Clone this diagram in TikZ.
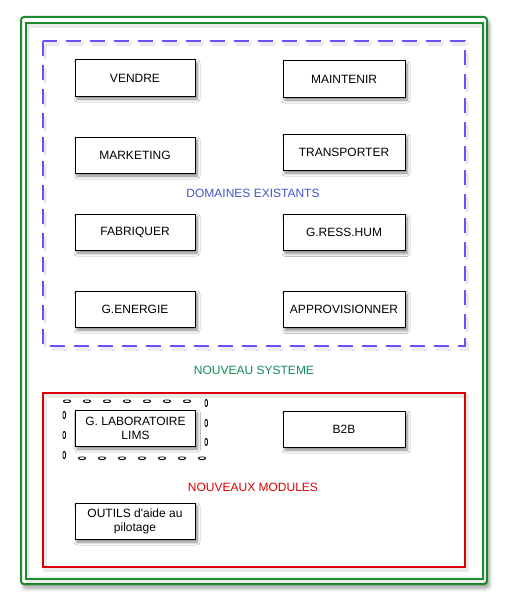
\documentclass[tikz,border=0pt]{standalone}
\usepackage{fontspec}
\setmainfont{Liberation Sans}
\usetikzlibrary{shadows.blur}
\definecolor{frgreen}{HTML}{1E8A2E}
\definecolor{dblue}{HTML}{6652F5}
\definecolor{lblue}{HTML}{4455CC}
\definecolor{lgreen}{HTML}{128A55}
\definecolor{mred}{HTML}{DD0000}
\tikzset{
  modbox/.style={draw=black, line width=1pt, fill=white, minimum height=36pt, align=center,
    font=\fontsize{12}{14}\selectfont, inner sep=1pt,
    blur shadow={shadow xshift=2pt, shadow yshift=-3pt, shadow blur steps=6, shadow opacity=50, shadow blur radius=3pt}},
  leftbox/.style={modbox, minimum width=120pt},
  rightbox/.style={modbox, minimum width=122pt},
  grplabel/.style={font=\fontsize{12}{14}\selectfont},
  frshadow/.style={black, opacity=0.08, line width=4pt},
  pillh/.style={draw=black, line width=0.8pt, rounded corners=1.4pt},
}
\begin{document}
\begin{tikzpicture}[x=1pt, y=-1pt]
\useasboundingbox (0,0) rectangle (508,610);
% green double frame
\draw[frgreen, line width=2pt, fill=white, rounded corners=3pt,
  blur shadow={shadow xshift=2pt, shadow yshift=-4pt, shadow blur steps=6, shadow opacity=40, shadow blur radius=4pt}]
  (21,17) rectangle (487,584);
\draw[frshadow] (28,26) rectangle (485,582);
\draw[frgreen, line width=2pt] (26,23) rectangle (483,579);
% blue dashed frame
\draw[frshadow, dash pattern=on 15pt off 9pt] (45,44) rectangle (467,349);
\draw[dblue, line width=2pt, dash pattern=on 15pt off 9pt] (43,41) rectangle (465,346);
% red frame
\draw[frshadow] (45,396) rectangle (467,570);
\draw[mred, line width=2pt] (43,393) rectangle (465,567);
% nodes
\node[leftbox] (vendre) at (135,78) {VENDRE};
\node[leftbox] (marketing) at (135,155) {MARKETING};
\node[leftbox] (fabriquer) at (135,232) {FABRIQUER};
\node[leftbox] (energie) at (135,309) {G.ENERGIE};
\node[leftbox] (lab) at (135.5,428) {G. LABORATOIRE\\LIMS};
\node[leftbox] (outils) at (135,521) {OUTILS d\textquotesingle aide au\\pilotage};
\node[rightbox] (maintenir) at (344,79) {MAINTENIR};
\node[rightbox] (transporter) at (344,152) {TRANSPORTER};
\node[rightbox] (resshum) at (344,232.5) {G.RESS.HUM};
\node[rightbox] (approv) at (344,309.5) {APPROVISIONNER};
\node[rightbox] (b2b) at (344,429) {B2B};
% labels
\node[grplabel, text=lblue] (domaines) at (253,193) {DOMAINES EXISTANTS};
\node[grplabel, text=lgreen] (systeme) at (254,370) {NOUVEAU SYSTEME};
\node[grplabel, text=mred] (modules) at (253,487) {NOUVEAUX MODULES};
% dotted border around LAB
\foreach \x in {67,87,107,127,147,167,187}
  \draw[pillh] (\x-3.5,400) rectangle (\x+3.5,402.5);
\foreach \x in {82,102,122,142,162,182,202}
  \draw[pillh] (\x-3.5,457) rectangle (\x+3.5,459.5);
\foreach \y in {403,423,442}
  \draw[pillh] (205,\y-3.5) rectangle (207.5,\y+3.5);
\foreach \y in {415,435,455}
  \draw[pillh] (63,\y-3.5) rectangle (65.5,\y+3.5);
\end{tikzpicture}
\end{document}
